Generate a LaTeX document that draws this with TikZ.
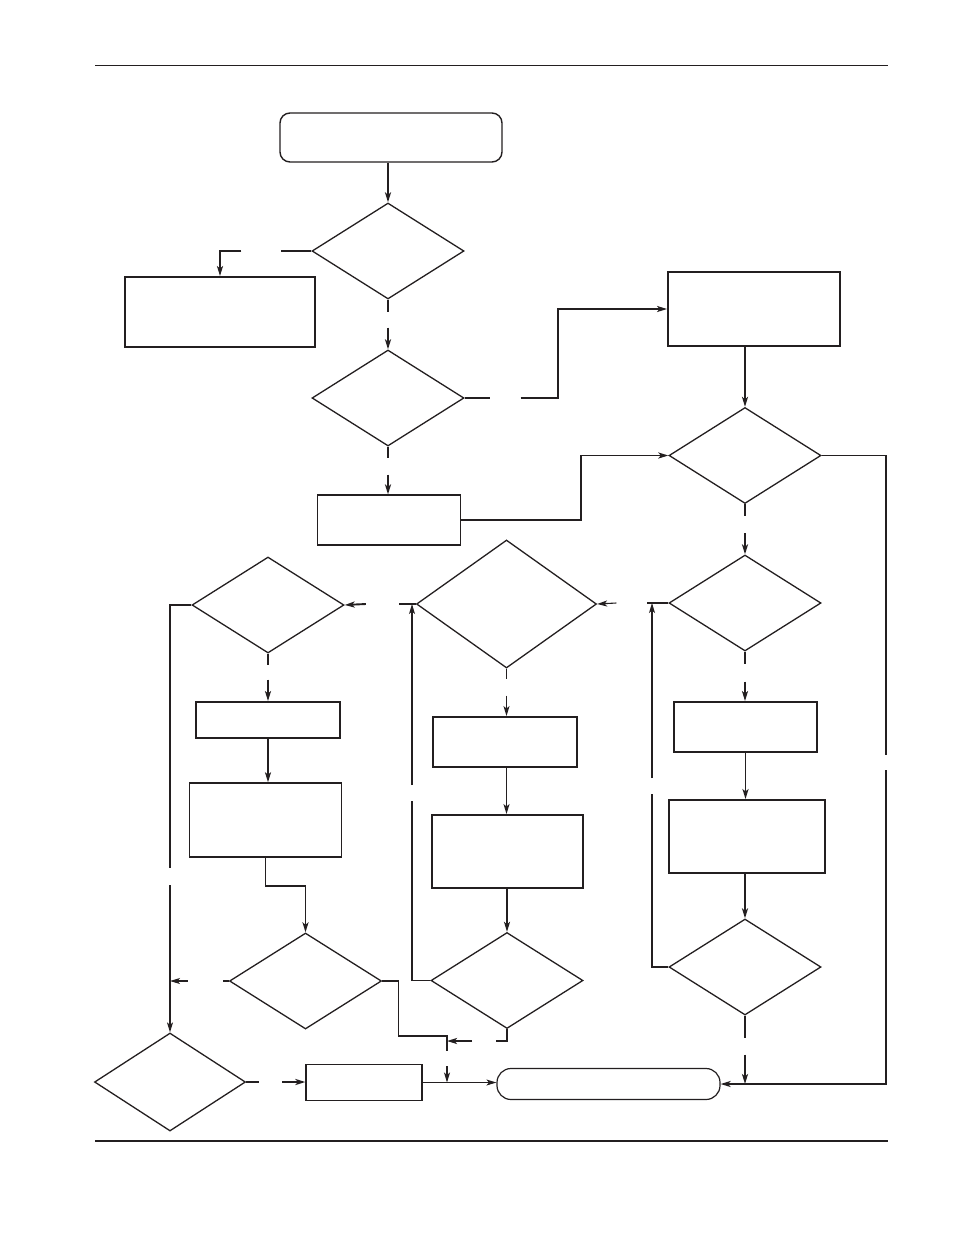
\documentclass[tikz,border=0pt]{standalone}
\usetikzlibrary{arrows.meta,shapes.geometric}
\definecolor{ink}{HTML}{231F20}
\tikzset{
  >={Stealth[length=10bp,width=6bp,inset=2.5bp]},
  %% nodes
  box/.style     = {draw=ink, line width=1.9bp, inner sep=0pt},
  lightbox/.style= {draw=ink, line width=1.2bp, inner sep=0pt},
  term/.style    = {draw=ink, line width=1.4bp, inner sep=0pt},
  test/.style    = {diamond, draw=ink, line width=1.3bp, inner sep=0pt,
                    minimum width=152bp, minimum height=96bp},
  %% connectors
  flow/.style    = {->, draw=ink, line width=1.9bp},
  thinflow/.style= {->, draw=ink, line width=1.1bp},
  wire/.style    = {-, draw=ink, line width=1.9bp},
  thinwire/.style= {-, draw=ink, line width=1.1bp},
}
\begin{document}
\begin{tikzpicture}[x=1bp, y=-1bp]
\useasboundingbox (0,0) rectangle (954,1235);

%% ---- page rules ----
\draw[ink, line width=0.8bp] (95,65) -- (888,65);
\draw[ink, line width=2.2bp] (95,1141) -- (888,1141);

%% ---- top: entry and first two tests ----
\node[term, rounded corners=10bp, minimum width=222bp, minimum height=49bp] (start) at (391,137.5) {};
\node[test] (d1) at (388,251) {};
\node[box, minimum width=190bp, minimum height=70bp] (b1) at (220,312) {};
\node[test] (d2) at (388,398) {};
\node[lightbox, minimum width=143bp, minimum height=50bp] (b2) at (389,520) {};

%% ---- right column ----
\node[box, minimum width=172bp, minimum height=74bp] (r1) at (754,309) {};
\node[test] (d3) at (745,455.5) {};
\node[test] (d4) at (745,603) {};
\node[box, minimum width=143bp, minimum height=50bp] (b3) at (745.5,727) {};
\node[box, minimum width=156bp, minimum height=73bp] (b4) at (747,836.5) {};
\node[test] (d6) at (745,967) {};

%% ---- middle column ----
\node[test, minimum width=180bp, minimum height=128bp] (d5) at (506.5,604) {};
\node[box, minimum width=144bp, minimum height=50bp] (b5) at (505,742) {};
\node[box, minimum width=151bp, minimum height=73bp] (b6) at (507.5,851.5) {};
\node[test] (d8) at (507,980.5) {};

%% ---- left column ----
\node[test] (d7) at (268,605) {};
\node[box, minimum width=144bp, minimum height=36bp] (b8) at (268,720) {};
\node[box, line width=1.5bp, minimum width=152bp, minimum height=74bp] (b9) at (265.5,820) {};
\node[test] (d9) at (305.5,981) {};
\node[test, minimum width=151bp, minimum height=98bp] (d10) at (170,1082) {};

%% ---- bottom row ----
\node[lightbox, minimum width=116bp, minimum height=36bp] (b7) at (364,1082.5) {};
\node[term, line width=1.2bp, rounded corners=14bp, minimum width=223bp, minimum height=31bp] (end) at (608.5,1084) {};

%% ---- connectors: top ----
\draw[flow] (d1.north |- start.south) -- (d1.north);
\draw[wire] (d1.west) -- ++(-30,0);
\draw[flow] ([xshift=-70bp]d1.west) -| (b1.north);
\draw[wire] (d1.south) -- ++(0,12);
\draw[flow] ([yshift=-28bp]d1.south) -- (d2.north);
\draw[wire] (d2.east) -- ++(25,0);
\draw[flow] ([xshift=56bp]d2.east) -- ++(37,0) |- (r1.west);
\draw[wire] (d2.south) -- ++(0,11);
\draw[flow] ([yshift=-28bp]d2.south) -- (d2.south |- b2.north);

%% ---- connectors: right ----
\draw[flow] (d3.north |- r1.south) -- (d3.north);
\draw[flow] (b2.east) -- ++(120,0) |- (d3.west);
\draw[wire] (d3.south) -- ++(0,12);
\draw[flow] ([yshift=-29bp]d3.south) -- (d4.north);
\draw[wire] (d4.south) -- ++(0,12);
\draw[flow] ([yshift=-30bp]d4.south) -- (d4.south |- b3.north);
\draw[flow] (b3.south) -- (b3.south |- b4.north);
\draw[flow] (d6.north |- b4.south) -- (d6.north);

%% outer return on the far right, broken once
\coordinate (rtop) at (886,755);
\coordinate (rbot) at (886,770);
\draw[wire, line width=1.6bp] (d3.east) -| (rtop);
\draw[flow, line width=1.6bp] (rbot) |- (end.east);

%% loop back up to d4
\coordinate (rlgap1) at (652,794);
\coordinate (rlgap2) at (652,778);
\draw[thinwire] (d6.west) -| (rlgap1);
\draw[thinflow] (rlgap2) -- (rlgap2 |- d4.west);
\draw[thinwire] (d4.west) -- ++(-21,0);
\draw[thinflow] ([xshift=-52bp]d4.west) -- (d5.east);

\draw[wire] (d6.south) -- ++(0,22);
\draw[flow] ([yshift=-39bp]d6.south) -- (d6.south |- end.east);

%% ---- connectors: middle ----
\draw[thinwire] (d5.south) -- ++(0,10);
\draw[thinflow] ([yshift=-27bp]d5.south) -- (d5.south |- b5.north);
\draw[thinflow] (d5.south |- b5.south) -- (d5.south |- b6.north);
\draw[flow] (d8.north |- b6.south) -- (d8.north);

\coordinate (mlgap1) at (412,801);
\coordinate (mlgap2) at (412,785);
\draw[thinwire] (d8.west) -| (mlgap1);
\draw[thinflow] (mlgap2) -- (mlgap2 |- d5.west);
\draw[wire] (d5.west) -- ++(-17,0);
\draw[flow] ([xshift=-50bp]d5.west) -- (d7.east);

\coordinate (mj) at (447,1041);
\draw[wire] (d8.south) |- ([xshift=49bp]mj);
\draw[flow] ([xshift=25bp]mj) -- (mj);

%% ---- connectors: left ----
\draw[wire] (d7.south) -- ++(0,11);
\draw[flow] ([yshift=-26bp]d7.south) -- (d7.south |- b8.north);
\draw[flow] (b8.south) -- (b8.south |- b9.north);
\draw[flow] (b9.south) -- ++(0,28) -| (d9.north);

\coordinate (llgap1) at (170,868);
\coordinate (llgap2) at (170,885);
\draw[thinwire] (d7.west) -| (llgap1);
\draw[thinflow] (llgap2) -- (d10.north);
\draw[thinwire] (d9.west) -- ++(-6,0);
\draw[thinflow] ([xshift=-41bp]d9.west) -- (d9.west -| d10.north);

\coordinate (lj) at (447,1036);
\coordinate (ljgap) at (447,1051);
\coordinate (ljarr) at (447,1066);
\draw[thinwire] (d9.east) -- ++(16,0) |- (lj) -- (ljgap);
\draw[thinflow] (ljarr) -- (ljarr |- b7.east);

%% ---- connectors: bottom ----
\draw[wire] (d10.east) -- ++(13,0);
\draw[flow] ([xshift=36bp]d10.east) -- (d10.east -| b7.west);
\draw[thinflow] (b7.east) -- (b7.east -| end.west);
\end{tikzpicture}
\end{document}
